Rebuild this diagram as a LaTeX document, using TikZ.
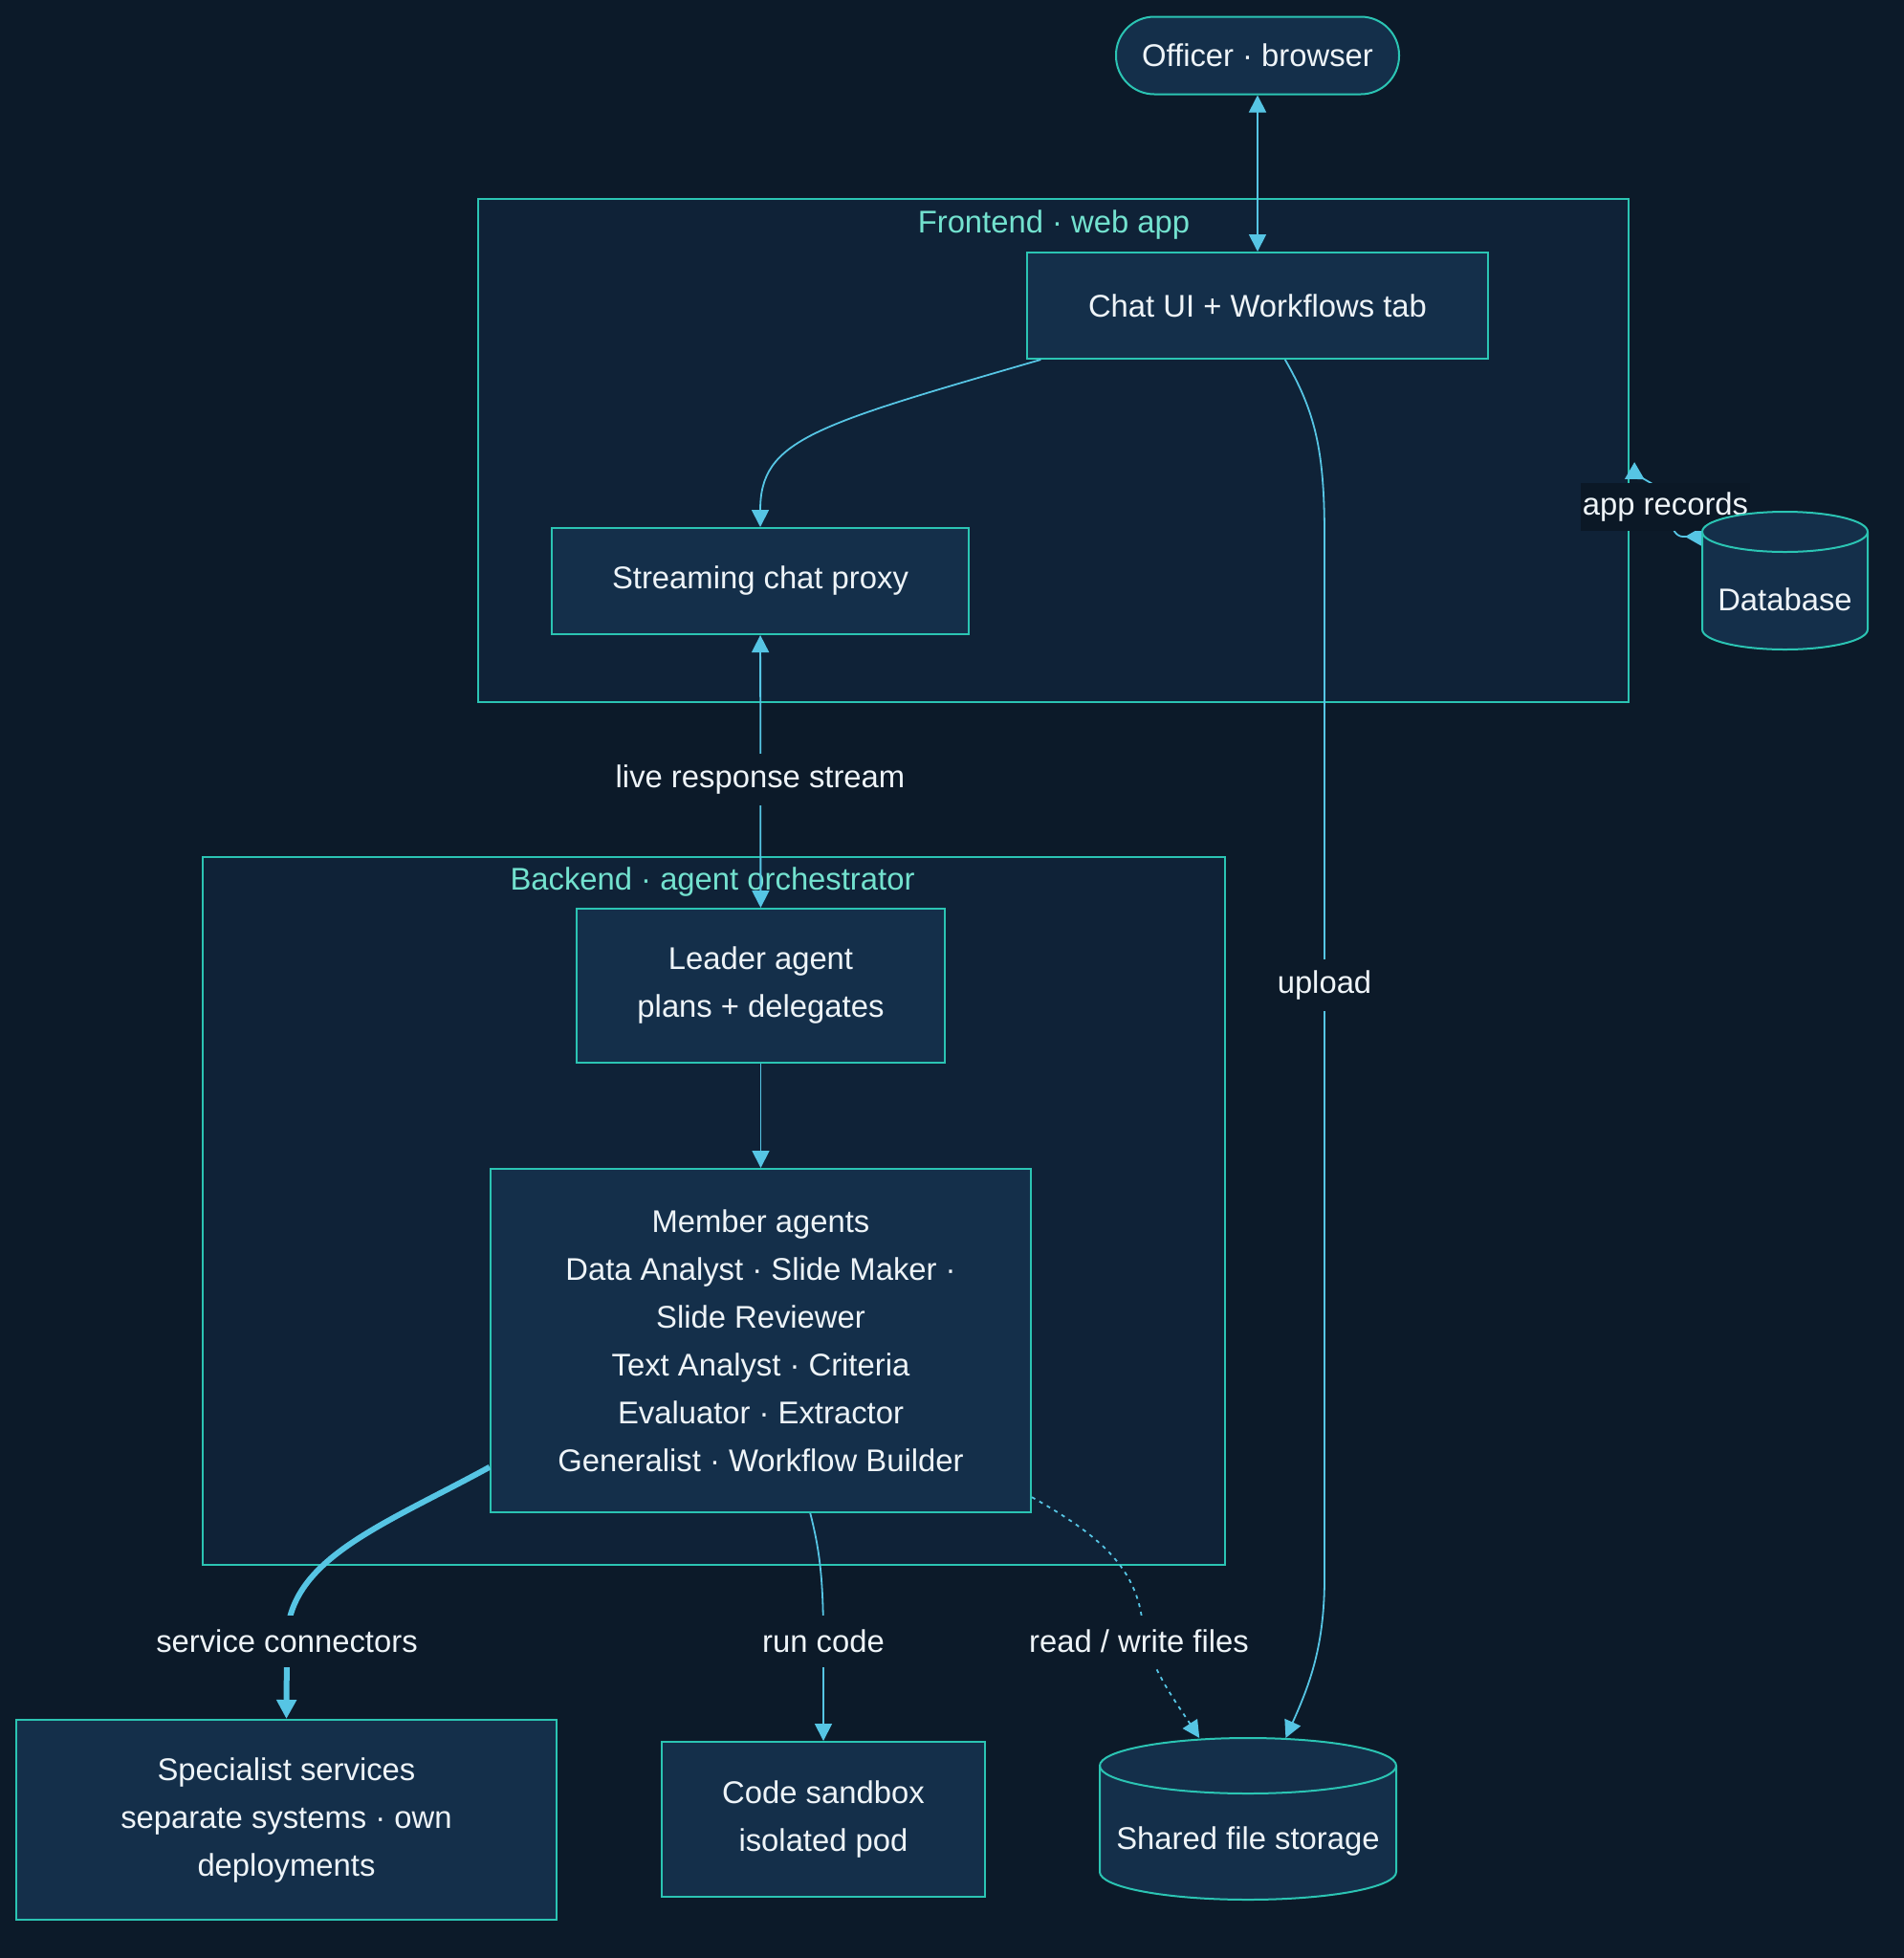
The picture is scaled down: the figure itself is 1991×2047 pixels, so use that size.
\documentclass[tikz,border=0pt]{standalone}
\usepackage{fontspec}
\setmainfont{Liberation Sans}
\usetikzlibrary{arrows.meta,calc}
\definecolor{bg}{HTML}{0C1A29}
\definecolor{clfill}{HTML}{0F2237}
\definecolor{nodefill}{HTML}{142F4A}
\definecolor{teal2}{HTML}{2BC4B3}
\definecolor{arrowc}{HTML}{56C5E4}
\definecolor{clabel}{HTML}{73E2CF}
\definecolor{txt}{HTML}{EEF4F8}
\definecolor{labelbg}{HTML}{0B1826}
\begin{document}
\begin{tikzpicture}[x=0.5pt,y=-0.5pt,
  every node/.style={font=\fontsize{16.4pt}{25pt}\selectfont, text=txt},
  box/.style={draw=teal2, line width=1pt, fill=nodefill, align=center, inner sep=0pt},
  cluster/.style={draw=teal2, line width=1pt, fill=clfill, inner sep=0pt},
  ghost/.style={inner sep=0pt, outer sep=0pt},
  conn/.style={draw=arrowc, line width=0.9pt},
  tip/.style={-{Triangle[length=9pt,width=9pt]}},
  elabel/.style={fill=labelbg, inner xsep=1pt, inner ysep=0pt, minimum height=27pt},
  cyl/.style={draw=teal2, line width=1pt, fill=nodefill}]

\fill[bg] (0,0) rectangle (1991,2047);
\useasboundingbox (0,0) rectangle (1991,2047);

% clusters
\node[cluster, minimum width=601.5pt, minimum height=263pt] (fe) at (1101.5,471) {};
\node[text=clabel] (felab) at (1102,235) {Frontend · web app};
\node[cluster, minimum width=534.5pt, minimum height=370pt] (be) at (746.5,1266) {};
\node[text=clabel] (belab) at (745,922) {Backend · agent orchestrator};

% nodes
\node[box, rounded corners=20pt, minimum width=148pt, minimum height=40.5pt] (officer) at (1315,58) {Officer · browser};
\node[box, minimum width=241pt, minimum height=55.5pt] (chat) at (1315,319.5) {Chat UI + Workflows tab};
\node[box, minimum width=218pt, minimum height=55.5pt] (proxy) at (795,607.5) {Streaming chat proxy};
\node[box, minimum width=192.5pt, minimum height=80.5pt] (leader) at (795.5,1030.5) {Leader agent\\plans + delegates};
\node[box, minimum width=282.5pt, minimum height=179.5pt] (member) at (795.5,1401.5) {Member agents\\Data Analyst · Slide Maker ·\\Slide Reviewer\\Text Analyst · Criteria\\Evaluator · Extractor\\Generalist · Workflow Builder};
\node[box, minimum width=282.5pt, minimum height=104.5pt] (spec) at (299.5,1902.5) {Specialist services\\separate systems · own\\deployments};
\node[box, minimum width=169pt, minimum height=81pt] (sandbox) at (861,1902) {Code sandbox\\isolated pod};

% shared file storage cylinder
\node[ghost, minimum width=155pt, minimum height=84.5pt] (storage) at (1305,1901.5) {};
\path[cyl] (1150,1846) -- (1150,1957) arc[start angle=180, end angle=360, x radius=77.5pt, y radius=14.5pt]
  -- (1460,1846) arc[start angle=0, end angle=180, x radius=77.5pt, y radius=14.5pt] -- cycle;
\draw[teal2, line width=1pt] (1460,1846) arc[start angle=0, end angle=-180, x radius=77.5pt, y radius=14.5pt];
\node (storagelbl) at (1305,1925) {Shared file storage};

% database anchor
\node[ghost, minimum width=86.5pt, minimum height=72pt] (db) at (1866.5,607) {};

% connectors
\draw[conn, {Triangle[length=9pt,width=9pt]}-{Triangle[length=9pt,width=9pt]}] (officer) -- (chat);
\draw[conn, tip] (chat.194.5) .. controls (850,445) and (795,460) .. (proxy.north);
\draw[conn, tip] (chat.-63.2) .. controls (1375,430) and (1385,470) .. (1385,560)
  -- (1385,1650) .. controls (1385,1720) and (1370,1760) .. (storage.65.8);
\draw[conn, {Triangle[length=9pt,width=9pt]}-{Triangle[length=9pt,width=9pt]}] (proxy) -- (leader);
\draw[conn, tip] (leader) -- (member);
\draw[conn, line width=3pt, -{Triangle[length=10pt,width=10pt]}] (member.205.6) .. controls (400,1595) and (300,1630) .. (300,1716) -- (spec.north);
\draw[conn, tip] (member.-74) .. controls (857,1620) and (861,1650) .. (861,1716) -- (sandbox.north);
\draw[conn, dash pattern=on 2pt off 2.5pt, tip] (member.-30.8) .. controls (1150,1605) and (1190,1640) .. (1195,1700)
  .. controls (1200,1740) and (1230,1780) .. (storage.121.9);
\draw[conn, {Triangle[length=9pt,width=10pt,reversed]}-{Triangle[length=9pt,width=10pt,reversed]}]
  (fe.-2.38) -- (1735,510) .. controls (1745,530) and (1745,561) .. (1760,561) -- (db.152);

% edge labels
\node[elabel, fill=bg] (lstream) at (795,815) {live response stream};
\node[elabel, fill=bg] (lupload) at (1385,1030) {upload};
\node[elabel, fill=bg] (lsc) at (300,1716) {service connectors};
\node[elabel, fill=bg] (lrun) at (861,1716) {run code};
\node[elabel, fill=bg] (lrw) at (1191,1716) {read / write files};
\node[elabel, minimum height=25pt] (lapp) at (1741.5,530) {app records};

% database cylinder (drawn above its label)
\path[cyl] (1780,556) -- (1780,658) arc[start angle=180, end angle=360, x radius=43.25pt, y radius=10.5pt]
  -- (1953,556) arc[start angle=0, end angle=180, x radius=43.25pt, y radius=10.5pt] -- cycle;
\draw[teal2, line width=1pt] (1953,556) arc[start angle=0, end angle=-180, x radius=43.25pt, y radius=10.5pt];
\node (dblbl) at (1866.5,627) {Database};
\end{tikzpicture}
\end{document}
